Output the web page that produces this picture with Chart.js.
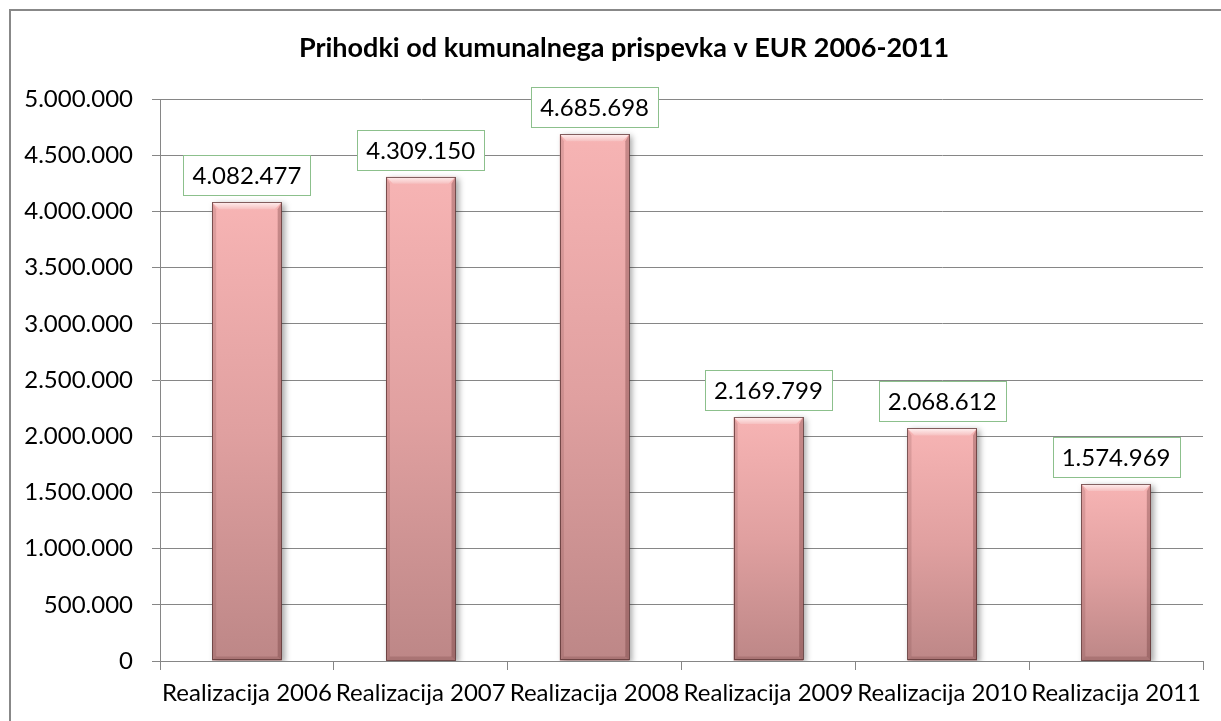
<!DOCTYPE html>
<html>
<head>
<meta charset="utf-8">
<script src="https://cdn.jsdelivr.net/npm/chart.js@4"></script>
<style>
html, body { margin: 0; padding: 0; background: #fff; overflow: hidden; }
#wrap { position: relative; width: 1221px; height: 721px; }
#frame { position: absolute; left: 9px; top: 9px; width: 1300px; height: 800px; border: 2px solid #888; }
canvas { position: absolute; left: 0; top: 0; }
</style>
</head>
<body>
<div id="wrap"><div id="frame"></div><canvas id="c" width="1221" height="721"></canvas></div>
<script>
const title = "Prihodki od kumunalnega prispevka v EUR 2006-2011";
const categories = ["Realizacija 2006", "Realizacija 2007", "Realizacija 2008", "Realizacija 2009", "Realizacija 2010", "Realizacija 2011"];
const values = [4082477, 4309150, 4685698, 2169799, 2068612, 1574969];
const yMin = 0;
const yMax = 5000000;
const yStep = 500000;

const FONT = "Lato, 'Open Sans', sans-serif";

function fmt(n) {
    return String(n).replace(/\B(?=(\d{3})+(?!\d))/g, '.');
}

// pink bar fill, lighter at the top
function barFill(ctx) {
    const chart = ctx.chart;
    const y = chart.scales.y;
    if (!y || !chart.chartArea) return '#e8a8a8';
    const top = y.getPixelForValue(ctx.raw);
    const bottom = y.getPixelForValue(0);
    const g = chart.ctx.createLinearGradient(0, top, 0, bottom);
    g.addColorStop(0, '#f7b4b4');
    g.addColorStop(0.5, '#e0a0a0');
    g.addColorStop(1, '#bd8787');
    return g;
}

// title sits a bit left of the plot centre, like in the sheet
const sheetTitle = {
    id: 'sheetTitle',
    afterDraw(chart) {
        const c = chart.ctx;
        c.save();
        c.font = "bold 27px " + FONT;
        c.fillStyle = '#000';
        c.textAlign = 'center';
        c.textBaseline = 'middle';
        c.fillText(title, 624, 48);
        c.restore();
    }
};

// shadow under the bars, bevel on top of them
const bevel = {
    id: 'bevel',
    beforeDatasetsDraw(chart) {
        const c = chart.ctx;
        c.save();
        c.shadowColor = 'rgba(0,0,0,0.35)';
        c.shadowBlur = 6;
        c.shadowOffsetX = 3;
        c.shadowOffsetY = 2;
    },
    afterDatasetsDraw(chart) {
        const c = chart.ctx;
        c.restore();
        chart.getDatasetMeta(0).data.forEach(bar => {
            const p = bar.getProps(['x', 'y', 'base', 'width'], true);
            const x0 = p.x - p.width / 2, x1 = p.x + p.width / 2;
            const t = p.y, b = p.base;
            const bv = 7, sv = 4;
            c.save();
            // top bevel
            let g = c.createLinearGradient(0, t, 0, t + bv);
            g.addColorStop(0, '#fff0f0');
            g.addColorStop(1, '#f6c0c0');
            c.fillStyle = g;
            c.beginPath();
            c.moveTo(x0, t); c.lineTo(x1, t); c.lineTo(x1 - bv, t + bv); c.lineTo(x0 + bv, t + bv);
            c.closePath(); c.fill();
            // left side
            c.fillStyle = 'rgba(110,60,60,0.18)';
            c.beginPath();
            c.moveTo(x0, t); c.lineTo(x0 + sv, t + bv); c.lineTo(x0 + sv, b - sv); c.lineTo(x0, b);
            c.closePath(); c.fill();
            // right side
            c.fillStyle = 'rgba(90,40,40,0.30)';
            c.beginPath();
            c.moveTo(x1, t); c.lineTo(x1 - sv, t + bv); c.lineTo(x1 - sv, b - sv); c.lineTo(x1, b);
            c.closePath(); c.fill();
            // bottom
            c.fillStyle = 'rgba(90,40,40,0.20)';
            c.beginPath();
            c.moveTo(x0, b); c.lineTo(x0 + sv, b - sv); c.lineTo(x1 - sv, b - sv); c.lineTo(x1, b);
            c.closePath(); c.fill();
            c.strokeStyle = 'rgba(90,50,50,0.75)';
            c.lineWidth = 1;
            c.strokeRect(Math.round(x0) + 0.5, Math.round(t) + 0.5, Math.round(x1 - x0) - 1, Math.round(b - t) - 1);
            c.restore();
        });
    }
};

// value boxes above the bars
const valueBoxes = {
    id: 'valueBoxes',
    afterDraw(chart) {
        const c = chart.ctx;
        c.save();
        c.font = "24px " + FONT;
        c.textAlign = 'center';
        c.textBaseline = 'middle';
        chart.getDatasetMeta(0).data.forEach((bar, i) => {
            const txt = fmt(values[i]);
            const w = Math.round(c.measureText(txt).width + 18);
            const h = 40;
            const x = Math.round(bar.x - w / 2) + 0.5;
            const y = Math.round(bar.y - 7 - h) + 0.5;
            c.fillStyle = '#fff';
            c.fillRect(x, y, w, h);
            c.strokeStyle = '#8cc08c';
            c.lineWidth = 1;
            c.strokeRect(x, y, w, h);
            c.fillStyle = '#000';
            c.fillText(txt, bar.x, y + h / 2 + 1);
        });
        c.restore();
    }
};

new Chart(document.getElementById('c'), {
    type: 'bar',
    data: {
        labels: categories,
        datasets: [{
            data: values,
            backgroundColor: barFill,
            borderWidth: 0,
            barPercentage: 0.4,
            categoryPercentage: 1
        }]
    },
    options: {
        responsive: false,
        animation: false,
        layout: { padding: { left: 10, right: 18, top: 99, bottom: 0 } },
        plugins: {
            legend: { display: false },
            tooltip: { enabled: false },
            title: { display: false }
        },
        scales: {
            x: {
                grid: { drawOnChartArea: false, color: '#868686', tickLength: 9, offset: true },
                border: { color: '#868686' },
                ticks: {
                    color: '#000', autoSkip: false, maxRotation: 0, minRotation: 0,
                    padding: 9, font: { family: FONT, size: 24 }
                },
                afterFit(s) { s.height = 60; }
            },
            y: {
                min: yMin, max: yMax,
                grid: { color: '#868686', tickLength: 8 },
                border: { color: '#868686' },
                ticks: {
                    stepSize: yStep, color: '#000', padding: 19,
                    font: { family: FONT, size: 24 },
                    callback: v => fmt(v)
                },
                afterFit(s) { s.width = 150; }
            }
        }
    },
    plugins: [bevel, valueBoxes, sheetTitle]
});
</script>
</body>
</html>
